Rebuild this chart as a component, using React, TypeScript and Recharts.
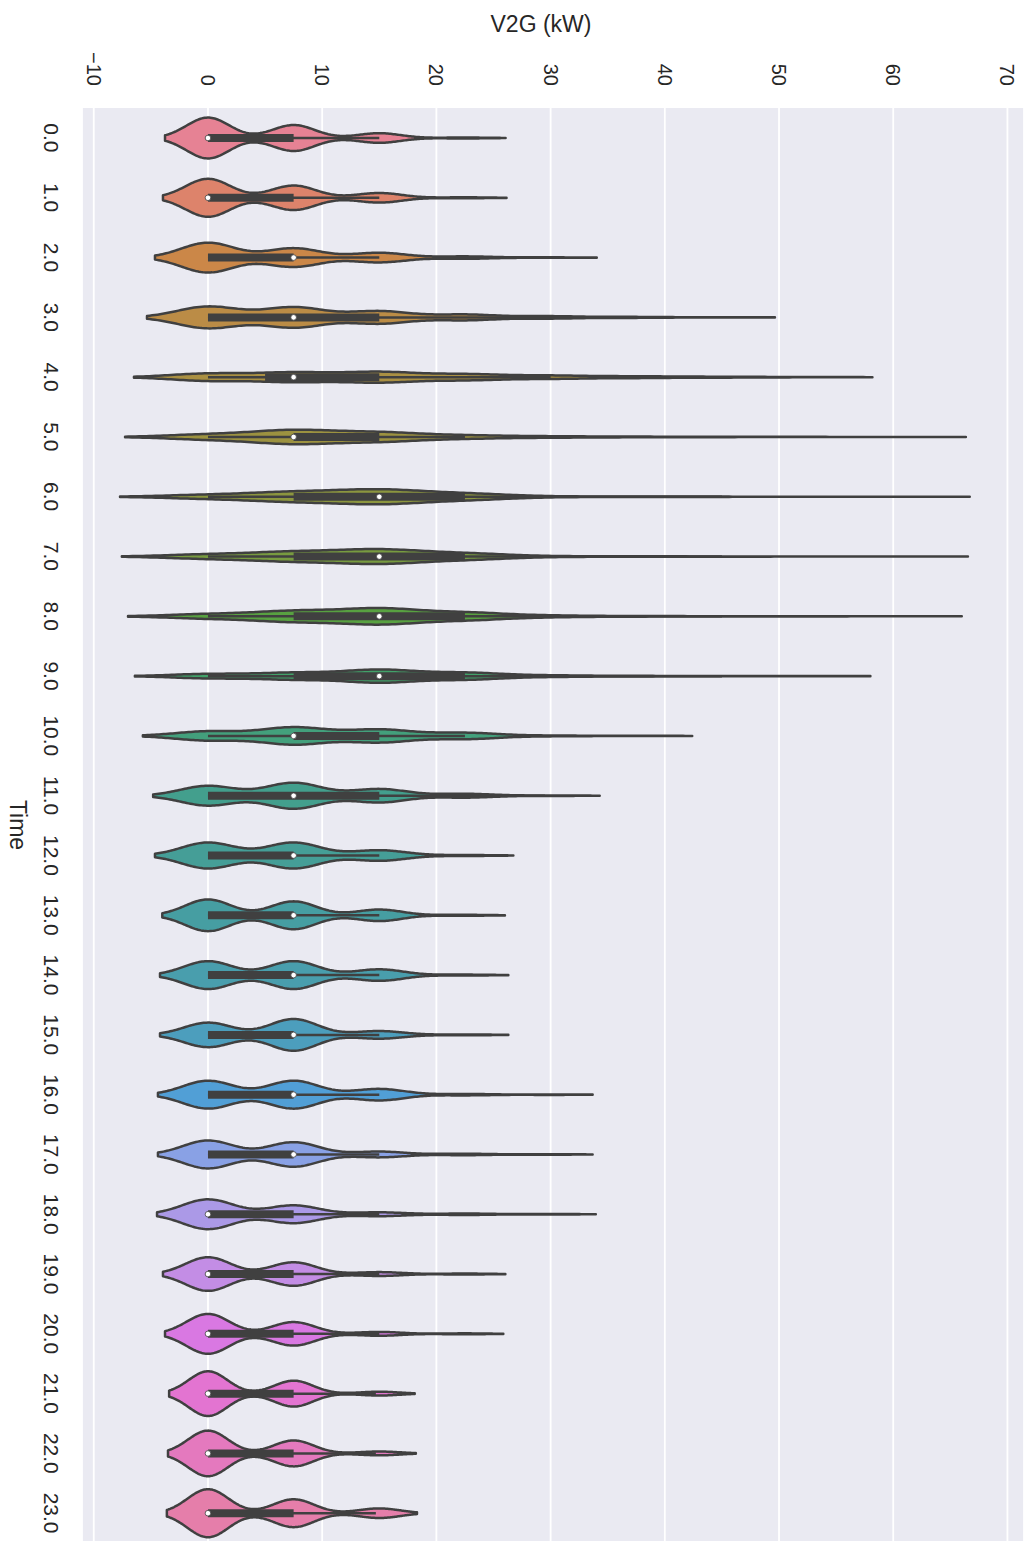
import { BarChart, Bar, XAxis, YAxis, CartesianGrid } from 'recharts'

// hour of day (category axis)
const times = [
  '0.0', '1.0', '2.0', '3.0', '4.0', '5.0', '6.0', '7.0', '8.0', '9.0', '10.0', '11.0',
  '12.0', '13.0', '14.0', '15.0', '16.0', '17.0', '18.0', '19.0', '20.0', '21.0', '22.0', '23.0',
]

// V2G power levels (kW) the KDE is built around
const levels = [0, 7.5, 15, 22.5, 30, 37.5, 45, 52.5, 60]

// relative kernel weight at each level, per hour (1 = widest violin)
const density = [
  [0.85, 0.54, 0.2, 0.02, 0, 0, 0, 0, 0],
  [0.79, 0.51, 0.2, 0.02, 0, 0, 0, 0, 0],
  [0.62, 0.39, 0.2, 0.05, 0.01, 0, 0, 0, 0],
  [0.45, 0.42, 0.26, 0.12, 0.05, 0.02, 0.005, 0, 0],
  [0.15, 0.19, 0.21, 0.12, 0.065, 0.035, 0.018, 0.006, 0],
  [0.1, 0.27, 0.18, 0.06, 0.025, 0.012, 0.006, 0.003, 0.002],
  [0.075, 0.18, 0.27, 0.12, 0.01, 0.008, 0.004, 0.002, 0.001],
  [0.085, 0.18, 0.27, 0.12, 0.01, 0.008, 0.004, 0.002, 0.001],
  [0.09, 0.21, 0.31, 0.15, 0.03, 0.01, 0.006, 0.002, 0.001],
  [0.09, 0.137, 0.26, 0.14, 0.03, 0.01, 0.005, 0.002, 0],
  [0.19, 0.355, 0.265, 0.13, 0.015, 0.005, 0, 0, 0],
  [0.41, 0.54, 0.28, 0.08, 0.01, 0, 0, 0, 0],
  [0.54, 0.54, 0.22, 0.02, 0, 0, 0, 0, 0],
  [0.66, 0.58, 0.24, 0.02, 0, 0, 0, 0, 0],
  [0.58, 0.58, 0.24, 0.02, 0, 0, 0, 0, 0],
  [0.51, 0.66, 0.16, 0.02, 0, 0, 0, 0, 0],
  [0.58, 0.58, 0.24, 0.03, 0.01, 0, 0, 0, 0],
  [0.58, 0.51, 0.12, 0.03, 0.01, 0, 0, 0, 0],
  [0.62, 0.37, 0.08, 0.03, 0.01, 0, 0, 0, 0],
  [0.7, 0.49, 0.08, 0.02, 0, 0, 0, 0, 0],
  [0.83, 0.49, 0.08, 0.02, 0, 0, 0, 0, 0],
  [0.93, 0.54, 0.08, 0, 0, 0, 0, 0, 0],
  [0.95, 0.54, 0.08, 0, 0, 0, 0, 0, 0],
  [1.0, 0.58, 0.2, 0, 0, 0, 0, 0, 0],
]

// KDE bandwidth (kW) per hour
const bandwidth = [
  1.88, 1.97, 2.32, 2.67, 3.24, 3.63, 3.85, 3.77, 3.5, 3.2, 2.85, 2.4,
  2.32, 2.0, 2.1, 2.1, 2.19, 2.19, 2.23, 1.97, 1.88, 1.7, 1.75, 1.8,
]

const minValue = [
  0, 0, 0, 0, 0, 0, 0, 0, 0, 0, 0, 0,
  0, 0, 0, 0, 0, 0, 0, 0, 0, 0, 0, 0,
]
const maxValue = [
  22.3, 22.2, 29.4, 44.3, 51.7, 59.1, 59, 59, 59, 51.6, 36.7, 29.5,
  22.1, 22, 22.1, 22.1, 29.3, 29.3, 29.5, 22.1, 22.1, 14.7, 14.7, 14.7,
]

// inner box stats
const q1 = [0, 0, 0, 0, 5, 7.5, 7.5, 7.5, 7.5, 7.5, 7.5, 0, 0, 0, 0, 0, 0, 0, 0, 0, 0, 0, 0, 0]
const median = [0, 0, 7.5, 7.5, 7.5, 7.5, 15, 15, 15, 15, 7.5, 7.5, 7.5, 7.5, 7.5, 7.5, 7.5, 7.5, 0, 0, 0, 0, 0, 0]
const q3 = [7.5, 7.5, 7.5, 15, 15, 15, 22.5, 22.5, 22.5, 22.5, 15, 15, 7.5, 7.5, 7.5, 7.5, 7.5, 7.5, 7.5, 7.5, 7.5, 7.5, 7.5, 7.5]
const whiskerHigh = [15, 15, 15, 37.5, 30, 22.5, 45, 45, 45, 45, 22.5, 29.5, 15, 15, 15, 15, 15, 15, 15, 15, 15, 14.7, 14.7, 14.7]

const valueTicks = [-10, 0, 10, 20, 30, 40, 50, 60, 70]

// husl palette, 24 hues
const huslColors = [
  '#f77189', '#f07858', '#e18632', '#ce9032', '#bb9832', '#ab9e31', '#97a431', '#7caa31',
  '#50b131', '#32b166', '#33af80', '#34ae96', '#36ada4', '#37acb1', '#38aabe', '#39a7d0',
  '#3ba3ec', '#7a99f4', '#a48cf4', '#c67ef4', '#e866f4', '#f561dd', '#f667c3', '#f66da8',
]

const GRAY = '#404040'
const FONT = '"Liberation Sans", Arial, sans-serif'
const TEXT = '#262626'

// pull each channel toward the HLS lightness (seaborn's saturation=.75)
function desaturate(hex: string, prop: number) {
  const c = [1, 3, 5].map((i) => parseInt(hex.slice(i, i + 2), 16))
  const mid = (Math.max(...c) + Math.min(...c)) / 2
  return '#' + c.map((v) => Math.round(mid + (v - mid) * prop).toString(16).padStart(2, '0')).join('')
}

const fills = huslColors.map((c) => desaturate(c, 0.75))

const rows = times.map((time, i) => ({
  time,
  idx: i,
  extent: [minValue[i] - 2 * bandwidth[i], maxValue[i] + 2 * bandwidth[i]],
}))

function ViolinShape(props: any) {
  const { x, y, width, height, payload } = props
  const i: number = payload.idx
  const [lo, hi] = payload.extent as number[]
  const toPx = (v: number) => x + ((v - lo) / (hi - lo)) * width
  const cy = y + height / 2
  const maxHalf = height * 0.4
  const bw = bandwidth[i]
  const dens = density[i]

  const half = (v: number) => {
    let s = 0
    for (let k = 0; k < levels.length; k++) {
      const z = (v - levels[k]) / bw
      s += dens[k] * Math.exp(-0.5 * z * z)
    }
    return s * maxHalf
  }

  const n = 240
  const top: string[] = []
  const bottom: string[] = []
  for (let j = 0; j <= n; j++) {
    const v = lo + ((hi - lo) * j) / n
    const px = toPx(v)
    const h = half(v)
    top.push(`${px.toFixed(2)},${(cy - h).toFixed(2)}`)
    bottom.push(`${px.toFixed(2)},${(cy + h).toFixed(2)}`)
  }
  const d = `M${top.join('L')}L${bottom.reverse().join('L')}Z`

  return (
    <g>
      <path d={d} fill={fills[i]} stroke={GRAY} strokeWidth={2.5} strokeLinejoin="round" />
      <line x1={toPx(minValue[i])} x2={toPx(whiskerHigh[i])} y1={cy} y2={cy} stroke={GRAY} strokeWidth={2.5} />
      <line x1={toPx(q1[i])} x2={toPx(q3[i])} y1={cy} y2={cy} stroke={GRAY} strokeWidth={8} />
      <circle cx={toPx(median[i])} cy={cy} r={2.8} fill="#fff" stroke={GRAY} strokeWidth={0.8} />
    </g>
  )
}

function ValueTick({ x, payload }: any) {
  const v = payload.value as number
  const label = v < 0 ? `\u2212${Math.abs(v)}` : String(v)
  return (
    <text
      x={x}
      y={86}
      transform={`rotate(90, ${x}, 86)`}
      textAnchor="end"
      dominantBaseline="central"
      fontFamily={FONT}
      fontSize={20}
      fill={TEXT}
    >
      {label}
    </text>
  )
}

function TimeTick({ y, payload }: any) {
  return (
    <text
      x={51}
      y={y}
      transform={`rotate(90, 51, ${y})`}
      textAnchor="middle"
      dominantBaseline="central"
      fontFamily={FONT}
      fontSize={21}
      fill={TEXT}
    >
      {payload.value}
    </text>
  )
}

const ValueTitle = () => (
  <text x={541} y={24} textAnchor="middle" dominantBaseline="central" fontFamily={FONT} fontSize={23} fill={TEXT}>
    V2G (kW)
  </text>
)

const TimeTitle = () => (
  <text
    x={18}
    y={825}
    transform="rotate(90, 18, 825)"
    textAnchor="middle"
    dominantBaseline="central"
    fontFamily={FONT}
    fontSize={23}
    fill={TEXT}
  >
    Time
  </text>
)

export default function App() {
  return (
    <div>
      <style>{'html,body{margin:0;overflow:hidden;background:#fff}'}</style>
      <BarChart
        width={1024}
        height={1543}
        data={rows}
        layout="vertical"
        barCategoryGap={0}
        barGap={0}
        margin={{ top: 0, right: 0, bottom: 0, left: 0 }}
      >
        <CartesianGrid horizontal={false} stroke="#ffffff" strokeWidth={1.8} fill="#eaeaf2" />
        <XAxis
          type="number"
          orientation="top"
          domain={[-11.03, 71.45]}
          ticks={valueTicks}
          interval={0}
          allowDataOverflow
          height={108}
          axisLine={false}
          tickLine={false}
          tick={<ValueTick />}
          label={{ content: <ValueTitle /> }}
        />
        <YAxis
          type="category"
          dataKey="time"
          width={82}
          interval={0}
          axisLine={false}
          tickLine={false}
          tick={<TimeTick />}
          label={{ content: <TimeTitle /> }}
        />
        <Bar dataKey="extent" shape={<ViolinShape />} isAnimationActive={false} />
      </BarChart>
    </div>
  )
}
